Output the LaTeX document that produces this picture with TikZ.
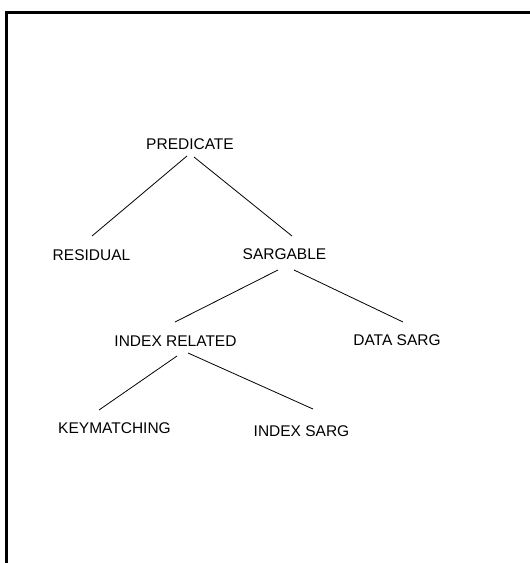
\documentclass[tikz,border=0pt]{standalone}
\usepackage{fontspec}
\setmainfont{Liberation Sans}
\begin{document}
\begin{tikzpicture}[x=1pt,y=-1pt,
  lbl/.style={inner sep=0pt, text height=11.1pt, text depth=0pt, font=\fontsize{15.5}{18}\selectfont},
  edge/.style={line width=0.8pt}]
\path[use as bounding box, clip] (0,0) rectangle (530,563);
\fill[white] (0,0) rectangle (530,563);
\draw[line width=3pt] (6.5,600) -- (6.5,12.5) -- (560,12.5);
\node[lbl] (pred) at (190,144) {PREDICATE};
\node[lbl] (res) at (91.5,255) {RESIDUAL};
\node[lbl] (sarg) at (284.5,254) {SARGABLE};
\node[lbl] (idxrel) at (175.5,341) {INDEX RELATED};
\node[lbl] (data) at (397,340) {DATA SARG};
\node[lbl] (key) at (114.5,428) {KEYMATCHING};
\node[lbl] (isarg) at (301.5,431) {INDEX SARG};
\draw[edge] ([shift={(-3,12)}]pred.center) -- ([shift={(0.5,-19)}]res.center);
\draw[edge] ([shift={(4,13)}]pred.center) -- ([shift={(7.5,-18)}]sarg.center);
\draw[edge] ([shift={(-6.5,16)}]sarg.center) -- ([shift={(-0.5,-19)}]idxrel.center);
\draw[edge] ([shift={(9.5,16)}]sarg.center) -- ([shift={(6,-18)}]data.center);
\draw[edge] ([shift={(1.5,15)}]idxrel.center) -- ([shift={(-15.5,-18)}]key.center);
\draw[edge] ([shift={(12.5,12)}]idxrel.center) -- ([shift={(11.5,-22)}]isarg.center);
\end{tikzpicture}
\end{document}
